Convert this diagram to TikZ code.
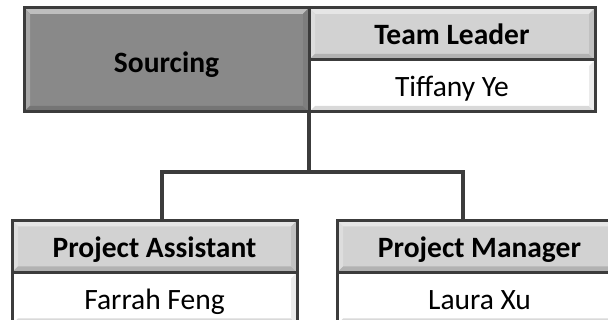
\documentclass[tikz,border=0pt]{standalone}
\usepackage{fontspec}
\setmainfont{Carlito}
\definecolor{edge}{HTML}{3C3C3C}
\definecolor{srcfill}{HTML}{898989}
\definecolor{hdrfill}{HTML}{D2D2D2}
\definecolor{namefill}{HTML}{FFFFFF}
\tikzset{
  bevel/.style={path picture={
    \def\b{path picture bounding box}
    \fill[#1!55!white] (\b.north west) -- (\b.north east) -- ([xshift=-6pt,yshift=-6pt]\b.north east) -- ([xshift=6pt,yshift=-6pt]\b.north west) -- cycle;
    \fill[#1!75!white] (\b.north west) -- (\b.south west) -- ([xshift=6pt,yshift=6pt]\b.south west) -- ([xshift=6pt,yshift=-6pt]\b.north west) -- cycle;
    \fill[#1!85!black] (\b.south west) -- (\b.south east) -- ([xshift=-6pt,yshift=6pt]\b.south east) -- ([xshift=6pt,yshift=6pt]\b.south west) -- cycle;
    \fill[#1!92!black] (\b.north east) -- (\b.south east) -- ([xshift=-6pt,yshift=6pt]\b.south east) -- ([xshift=-6pt,yshift=-6pt]\b.north east) -- cycle;
  }},
  box/.style={rectangle, inner sep=0pt, outer sep=0pt, draw=edge, line width=3pt, text=black, text height=26pt, text depth=4pt},
  srcbox/.style={box, fill=srcfill, bevel=srcfill, minimum width=285pt, minimum height=104pt, text height=28pt, text depth=2pt, font=\fontsize{29.5}{33}\selectfont\bfseries},
  hdrbox/.style={box, fill=hdrfill, bevel=hdrfill, minimum width=286pt, minimum height=52pt, font=\fontsize{29.5}{33}\selectfont\bfseries},
  namebox/.style={box, fill=namefill, bevel=namefill, minimum width=286pt, minimum height=52pt, font=\fontsize{29.5}{33}\selectfont},
  link/.style={draw=edge, line width=3.5pt}
}
\begin{document}
\begin{tikzpicture}[x=1pt,y=-1pt]
\useasboundingbox (0,0) rectangle (608,320);
\clip (0,0) rectangle (608,320);
\fill[white] (0,0) rectangle (608,320);
% top row
\node[srcbox] (src) at (166.5,60) {Sourcing};
\node[hdrbox] (tlh) at (452,34) {Team Leader};
\node[namebox] (tln) at (452,86) {Tiffany Ye};
% bottom row
\node[hdrbox, minimum width=285pt] (pah) at (154.5,246.5) {Project Assistant};
\node[namebox, minimum width=285pt] (pan) at (154.5,298.5) {Farrah Feng};
\node[hdrbox, minimum width=285pt] (pmh) at (479.5,246.5) {Project Manager};
\node[namebox, minimum width=285pt] (pmn) at (479.5,298.5) {Laura Xu};
% connectors
\coordinate (top) at (src.south east);
\coordinate (mid) at (309,172);
\draw[link] (top) -- (mid);
\draw[link] (pah.north -| 162,0) |- (mid) -| (pmh.north -| 463,0);
\end{tikzpicture}
\end{document}
